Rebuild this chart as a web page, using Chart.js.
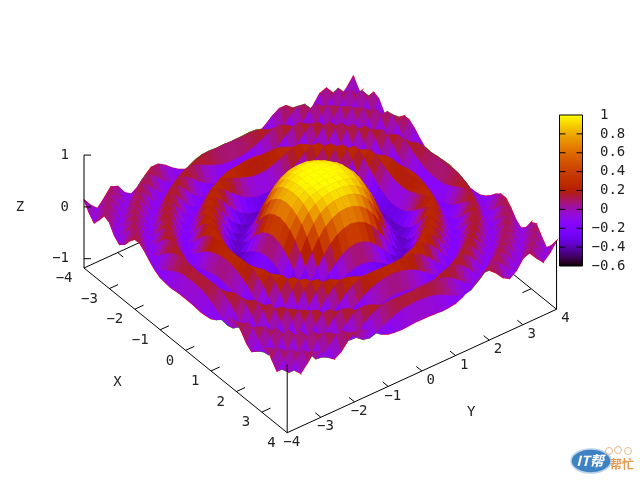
<!DOCTYPE html>
<html>
<head>
<meta charset="utf-8">
<style>
  html, body { margin: 0; padding: 0; background: #fff; }
  canvas { display: block; }
</style>
<script src="https://cdn.jsdelivr.net/npm/chart.js@4"></script>
</head>
<body>
<canvas id="surface" width="640" height="480"></canvas>
<script>
// sample positions along each horizontal axis
const gridX = [-4,-3.8,-3.6,-3.4,-3.2,-3,-2.8,-2.6,-2.4,-2.2,-2,-1.8,-1.6,-1.4,-1.2,-1,-0.8,-0.6,-0.4,-0.2,0,
  0.2,0.4,0.6,0.8,1,1.2,1.4,1.6,1.8,2,2.2,2.4,2.6,2.8,3,3.2,3.4,3.6,3.8,4];
const gridY = gridX;

// surface height. The rings are round, so one
// octant is enough: row a = |x|/0.2, entries b = a..20 for |y|/0.2
const zOctant = [
  [1,1,.99,.97,.9,.77,.55,.25,-.08,-.33,-.4,-.23,.08,.29,.21,-.09,-.25,-.05,.2,.09,-.18],
  [1,.99,.96,.89,.75,.52,.22,-.1,-.34,-.39,-.22,.09,.29,.2,-.1,-.25,-.04,.21,.08,-.18],
  [.97,.93,.85,.69,.46,.16,-.15,-.36,-.38,-.18,.13,.3,.17,-.13,-.24,-.02,.21,.07,-.19],
  [.87,.77,.59,.34,.04,-.23,-.39,-.35,-.11,.18,.3,.12,-.17,-.23,.03,.22,.03,-.2],
  [.63,.43,.18,-.1,-.32,-.4,-.28,-.01,.24,.28,.05,-.21,-.19,.09,.21,-.03,-.19],
  [.22,-.02,-.25,-.39,-.37,-.18,.1,.29,.22,-.05,-.25,-.12,.16,.17,-.1,-.17],
  [-.22,-.36,-.4,-.27,-.03,.22,.3,.12,-.15,-.24,-.03,.21,.1,-.16,-.11],
  [-.4,-.32,-.11,.14,.29,.23,-.02,-.23,-.17,.09,.21,0,-.2,-.02],
  [-.14,.09,.27,.28,.09,-.16,-.24,-.05,.19,.15,-.12,-.17,.09],
  [.26,.29,.15,-.09,-.25,-.15,.1,.22,.03,-.19,-.07,.17],
  [.17,-.05,-.23,-.21,.01,.21,.13,-.12,-.17,.07,.17],
  [-.22,-.23,-.04,.18,.19,-.03,-.2,-.05,.17,.06],
  [-.06,.15,.21,.04,-.18,-.13,.11,.15,-.09],
  [.21,.07,-.15,-.17,.05,.18,0,-.17],
  [-.14,-.18,0,.18,.07,-.15,-.08],
  [-.01,.17,.1,-.12,-.13,.1],
  [.11,-.1,-.15,.05,.15],
  [-.16,.03,.16,-.01],
  [.16,.01,-.15],
  [-.15,-.03],
  [.14]
];

const xTicks = [-4,-3,-2,-1,0,1,2,3,4];
const yTicks = [-4,-3,-2,-1,0,1,2,3,4];
const zTicks = [-1,0,1];
const cbTicks = [-0.6,-0.4,-0.2,0,0.2,0.4,0.6,0.8,1];
const cbMin = -0.6, cbMax = 1, zBase = -1.18;

// view of the box on the page
function project(x, y, z) {
  return {
    x: 84 + 25.4 * (x + 4) + 33.67 * (y + 4),
    y: 268 + 20.59 * (x + 4) - 15.43 * (y + 4) - 51.8 * (z - zBase)
  };
}

// gnuplot default palette (rgbformulae 7,5,15)
function palette(z) {
  const g = Math.min(1, Math.max(0, (z - cbMin) / (cbMax - cbMin)));
  const r = Math.round(255 * Math.sqrt(g));
  const gr = Math.round(255 * g * g * g);
  const b = Math.round(255 * Math.max(0, Math.sin(2 * Math.PI * g)));
  return 'rgb(' + r + ',' + gr + ',' + b + ')';
}

function height(i, j) {
  const a = Math.abs(i - 20), b = Math.abs(j - 20);
  return zOctant[Math.min(a, b)][Math.abs(a - b)];
}

function lineSet(points, color, order, width) {
  return { data: points, borderColor: color, borderWidth: width || 1, pointRadius: 0, fill: false, order: order };
}

// facets, in the scan order of the plot (last row drawn is y = -4)
const cells = [];
const redMesh = [], greenMesh = [];
for (let i = 0; i < gridX.length - 1; i++) {
  for (let j = 0; j < gridY.length - 1; j++) {
    const corners = [[i, j], [i + 1, j], [i + 1, j + 1], [i, j + 1]].map(([a, b]) => {
      const z = height(a, b);
      return { z: z, p: project(gridX[a], gridY[b], z) };
    });
    const pts = corners.map(c => c.p);
    const mean = corners.reduce((s, c) => s + c.z, 0) / 4;
    cells.push({
      pts: pts.concat([pts[0]]),
      color: palette(mean),
      scan: -j * 100 + i
    });
    // mesh lines only peek out behind the facets: red seen from above, green from below
    const area = (pts[1].x - pts[0].x) * (pts[3].y - pts[0].y) - (pts[1].y - pts[0].y) * (pts[3].x - pts[0].x);
    const target = area < 0 ? redMesh : greenMesh;
    target.push(pts[0], pts[1], pts[2], pts[3], pts[0], { x: NaN, y: NaN });
  }
}
cells.sort((a, b) => b.scan - a.scan);

const datasets = cells.map((c, n) => ({
  data: c.pts,
  fill: 'shape',
  backgroundColor: c.color,
  borderColor: c.color,
  borderWidth: 0.5,
  pointRadius: 0,
  order: n
}));
const under = 5000, over = -1;
datasets.push(lineSet(greenMesh, '#00ff00', under, 1.2));
datasets.push(lineSet(redMesh, '#ff0000', under + 1, 1.2));

// base box with its ticks, below the surface
const zb = zBase;
datasets.push(lineSet([project(-4,-4,zb), project(4,-4,zb), project(4,4,zb), project(-4,4,zb), project(-4,-4,zb)], '#000', under + 2));
xTicks.slice(1, -1).forEach(t => {
  datasets.push(lineSet([project(t,-4,zb), project(t,-3.74,zb)], '#000', under + 2));
  datasets.push(lineSet([project(t,4,zb), project(t,3.74,zb)], '#000', under + 2));
});
yTicks.slice(1, -1).forEach(t => {
  datasets.push(lineSet([project(4,t,zb), project(3.78,t,zb)], '#000', under + 2));
  datasets.push(lineSet([project(-4,t,zb), project(-3.78,t,zb)], '#000', under + 2));
});

// z axis and the two corner posts, on top
datasets.push(lineSet([project(-4,-4,zb), project(-4,-4,1)], '#000', over));
datasets.push(lineSet([project(4,-4,zb), project(4,-4,height(40,0))], '#000', over));
datasets.push(lineSet([project(4,4,zb), project(4,4,height(40,40))], '#000', over));
zTicks.forEach(t => {
  const p = project(-4,-4,t);
  datasets.push(lineSet([p, { x: p.x + 7, y: p.y }], '#000', over));
});

// colour box
const cbLeft = 559.5, cbRight = 582.5, cbTop = 115, cbBottom = 266;
function cbY(v) { return cbBottom - (v - cbMin) / (cbMax - cbMin) * (cbBottom - cbTop); }
const canvas = document.getElementById('surface');
const ctx = canvas.getContext('2d');
const cbFill = ctx.createLinearGradient(0, cbBottom, 0, cbTop);
for (let k = 0; k <= 64; k++) cbFill.addColorStop(k / 64, palette(cbMin + (cbMax - cbMin) * k / 64));
const cbBox = [{x:cbLeft,y:cbTop},{x:cbRight,y:cbTop},{x:cbRight,y:cbBottom},{x:cbLeft,y:cbBottom},{x:cbLeft,y:cbTop}];
datasets.push({ data: cbBox, fill: 'shape', backgroundColor: cbFill, borderColor: '#000', borderWidth: 1, pointRadius: 0, order: over });
cbTicks.slice(1, -1).forEach(t => {
  const y = cbY(t);
  datasets.push(lineSet([{x:cbLeft,y:y},{x:cbLeft+6,y:y}], '#000', over - 1));
  datasets.push(lineSet([{x:cbRight-6,y:y},{x:cbRight,y:y}], '#000', over - 1));
});

function tickText(v) {
  return (v < 0 ? '\u2212' : '') + Math.abs(v);
}

// real text labels and the corner badge
const labelPlugin = {
  id: 'labels',
  afterDraw(chart) {
    const c = chart.ctx, sx = chart.scales.x, sy = chart.scales.y;
    const put = (t, x, y, align) => {
      c.textAlign = align || 'center';
      c.fillText(t, sx.getPixelForValue(x), sy.getPixelForValue(y));
    };
    c.save();
    c.fillStyle = '#222';
    c.font = '14px "DejaVu Sans Mono"';
    c.textBaseline = 'middle';
    xTicks.forEach(t => {
      const p = project(t, -4, zBase);
      put(tickText(t), p.x - 11.5, p.y + 10.5, 'right');
    });
    yTicks.forEach(t => {
      const p = project(4, t, zBase);
      put(tickText(t), p.x + 13, p.y + 9.5, 'right');
    });
    zTicks.forEach(t => {
      const p = project(-4, -4, t);
      put(tickText(t), 69, p.y, 'right');
    });
    cbTicks.forEach(t => put(tickText(t), t < 0 ? 591.6 : 600, cbY(t), 'left'));
    put('X', 117.5, 382.5);
    put('Y', 471.3, 412.7);
    put('Z', 20, 207);

    // badge
    c.fillStyle = '#3f82c4';
    c.strokeStyle = '#b9d3ea';
    c.lineWidth = 1.5;
    c.beginPath();
    c.ellipse(sx.getPixelForValue(591), sy.getPixelForValue(461), 20, 12, 0, 0, Math.PI * 2);
    c.fill();
    c.stroke();
    c.fillStyle = '#fff';
    c.font = 'italic bold 14px "Noto Sans CJK SC"';
    put('IT帮', 590, 461);
    c.fillStyle = '#e39a4e';
    c.font = 'bold 12px "Noto Sans CJK SC"';
    put('帮忙', 622, 464);
    c.strokeStyle = '#e6b98c';
    c.lineWidth = 1;
    [[609, 451], [618, 450], [628, 451]].forEach(([x, y]) => {
      c.beginPath();
      c.arc(sx.getPixelForValue(x), sy.getPixelForValue(y), 3.5, 0, Math.PI * 2);
      c.stroke();
    });
    c.restore();
  }
};

new Chart(ctx, {
  type: 'line',
  data: { datasets: datasets },
  options: {
    responsive: false,
    animation: false,
    events: [],
    layout: { padding: 0 },
    elements: { line: { tension: 0 } },
    plugins: { legend: { display: false }, tooltip: { enabled: false }, title: { display: false } },
    scales: {
      x: { type: 'linear', min: 0, max: 640, display: false },
      y: { type: 'linear', min: 0, max: 480, reverse: true, display: false }
    }
  },
  plugins: [labelPlugin]
});
</script>
</body>
</html>
